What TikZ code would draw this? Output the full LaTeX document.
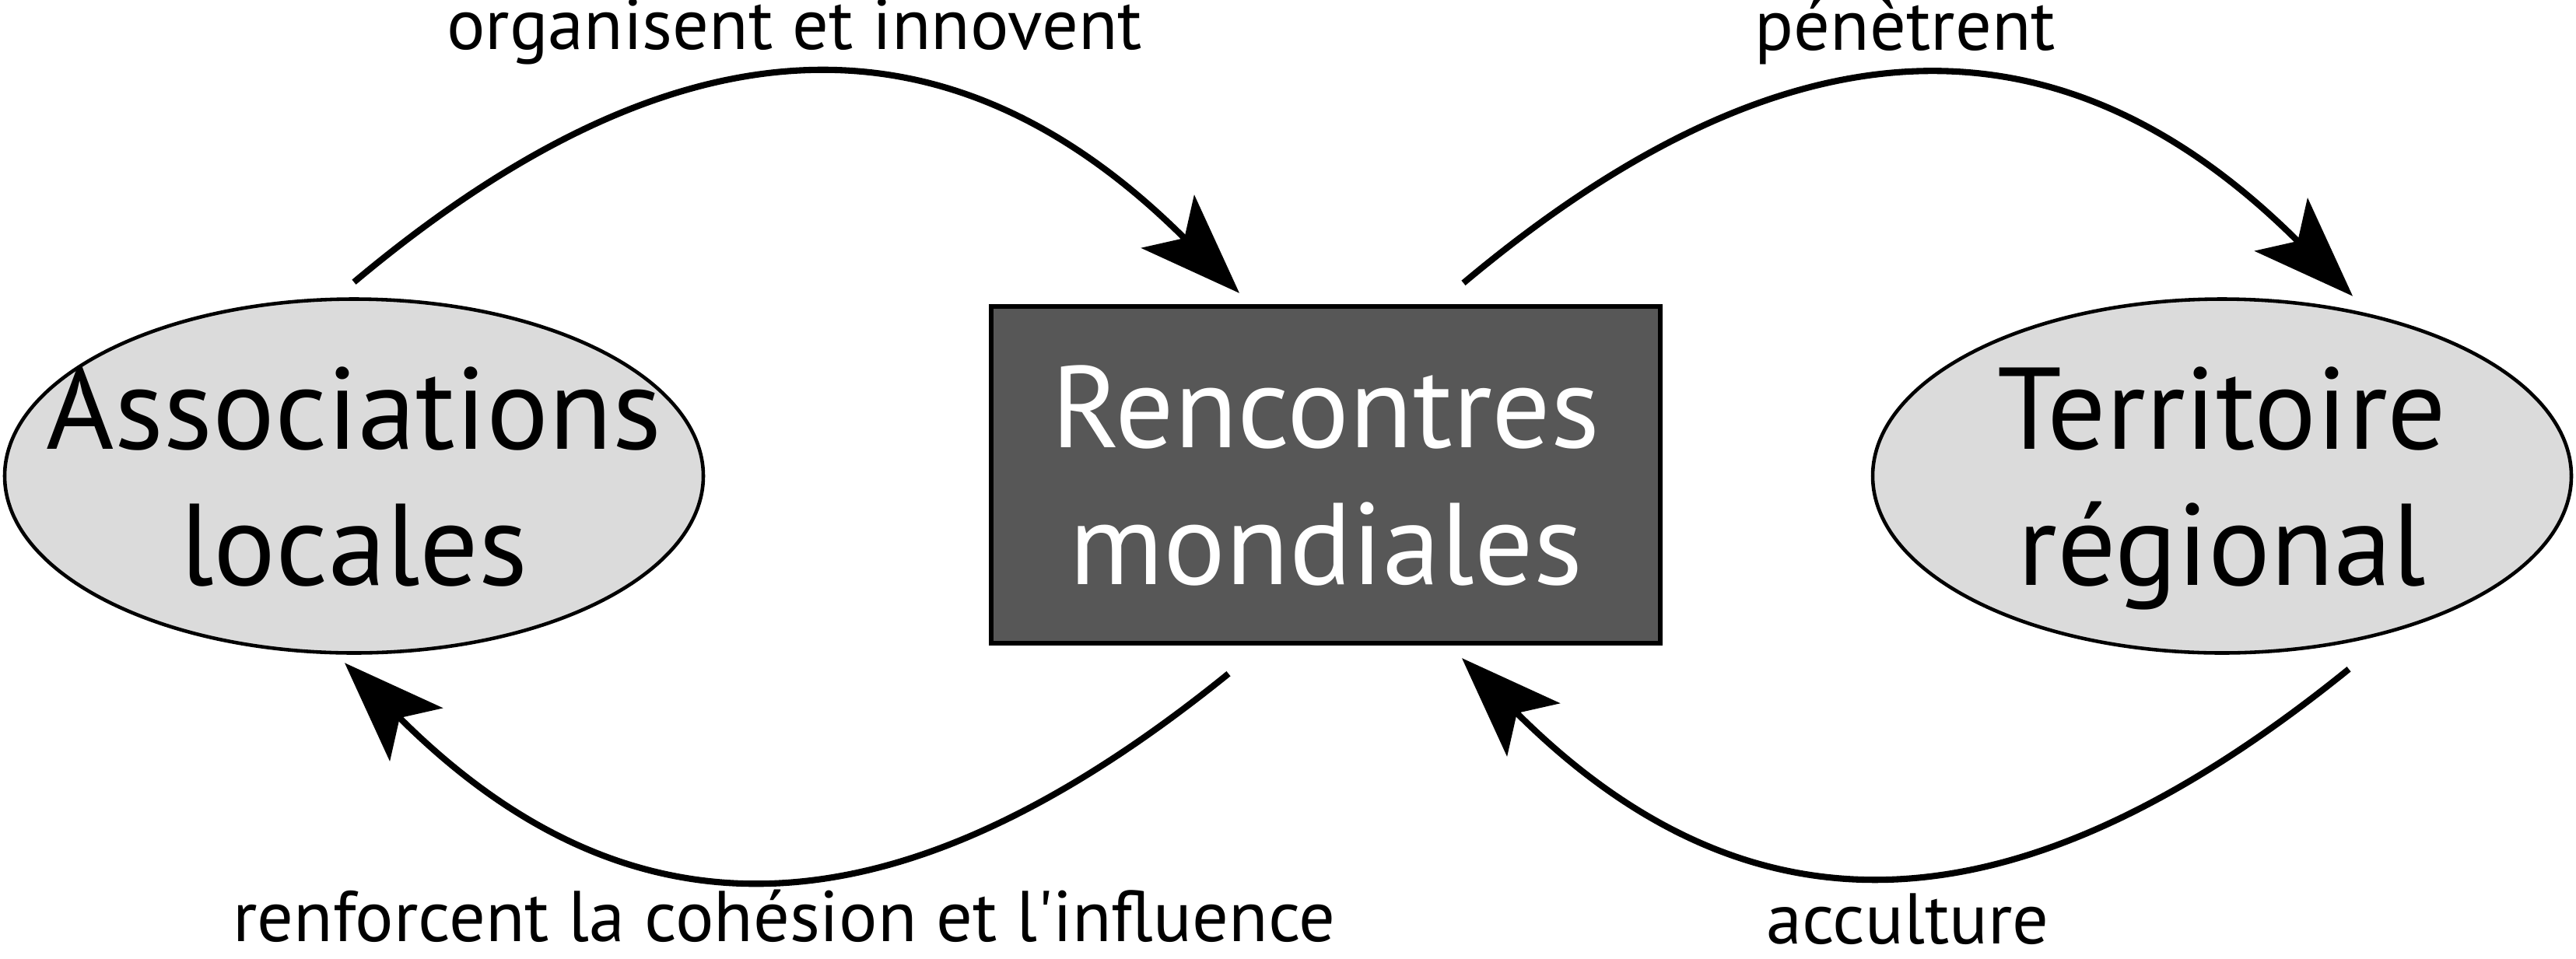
\documentclass[tikz,border=0pt]{standalone}
\usepackage{fontspec}
\setmainfont{PT Sans}
\usetikzlibrary{shapes.geometric,arrows.meta}
\begin{document}
\begin{tikzpicture}[>={Stealth[length=13mm,width=9.6mm,inset=3mm]},
  blob/.style={draw, line width=1.3pt, ellipse, fill=black!14, minimum width=8.98cm, minimum height=4.55cm, inner sep=0pt},
  box/.style={draw, line width=1.8pt, fill=black!66, minimum width=8.6cm, minimum height=4.33cm, inner sep=0pt},
  bigtext/.style={align=center, font=\fontsize{42.5}{50}\selectfont, text depth=0pt},
  flow/.style={->, line width=2.3pt},
  lbl/.style={font=\fontsize{26.3}{30}\selectfont, anchor=base, inner sep=0pt}]
\useasboundingbox (0,0) rectangle (33.11,-12.32);
\node[blob] (assoc) at (4.55,-6.12) {};
\node[bigtext] (assocText) at (assoc) {Associations\\locales};
\node[box, bigtext, text=white] (rencontres) at (17.04,-6.105) {Rencontres\\mondiales};
\node[blob] (territ) at (28.56,-6.12) {};
\node[bigtext] (territText) at (territ) {Territoire\\régional};

\draw[flow] ([yshift=1.95mm]assoc.north) to[out=40, in=135, looseness=1.2] ([xshift=-11.1mm, yshift=1.4mm]rencontres.north);
\draw[flow] ([xshift=17.7mm, yshift=2.7mm]rencontres.north) to[out=40, in=135, looseness=1.2] ([xshift=16.8mm, yshift=0.15mm]territ.north);
\draw[flow] ([xshift=-12.5mm, yshift=-3.6mm]rencontres.south) to[out=-141, in=-45, looseness=1.2] ([xshift=-1.2mm, yshift=-1.05mm]assoc.south);
\draw[flow] ([xshift=16.3mm, yshift=-1.85mm]territ.south) to[out=-141, in=-45, looseness=1.2] ([xshift=17.5mm, yshift=-1.6mm]rencontres.south);

\node[lbl] (orgLbl) at (10.21,-0.63) {organisent et innovent};
\node[lbl] (penLbl) at (24.49,-0.64) {pénètrent};
\node[lbl] (renfLbl) at (10.08,-12.1) {renforcent la cohésion et l\textquotesingle influence};
\node[lbl] (accLbl) at (24.52,-12.13) {acculture};
\end{tikzpicture}
\end{document}
